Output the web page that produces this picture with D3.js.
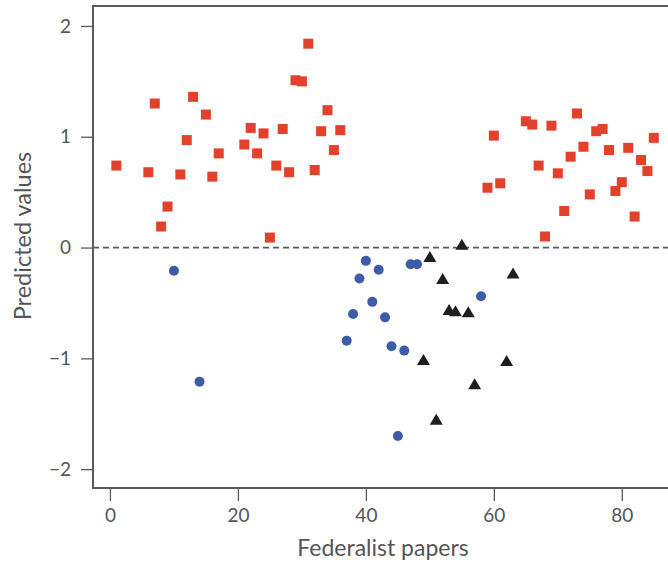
<!DOCTYPE html>
<html>
<head>
<meta charset="utf-8">
<script src="https://cdn.jsdelivr.net/npm/d3@7"></script>
<style>
  html, body { margin: 0; padding: 0; background: #fff; }
  svg { display: block; }
</style>
</head>
<body>
<div id="chart"></div>
<script>
// ---- data ----
const hamiltonPapers = [1, 6, 7, 8, 9, 11, 12, 13, 15, 16, 17, 21, 22, 23, 24, 25, 26, 27, 28, 29, 30, 31, 32, 33, 34, 35, 36, 59, 60, 61, 65, 66, 67, 68, 69, 70, 71, 72, 73, 74, 75, 76, 77, 78, 79, 80, 81, 82, 83, 84, 85];
const hamiltonValues = [0.74, 0.68, 1.30, 0.19, 0.37, 0.66, 0.97, 1.36, 1.20, 0.64, 0.85, 0.93, 1.08, 0.85, 1.03, 0.09, 0.74, 1.07, 0.68, 1.51, 1.50, 1.84, 0.70, 1.05, 1.24, 0.88, 1.06, 0.54, 1.01, 0.58, 1.14, 1.11, 0.74, 0.10, 1.10, 0.67, 0.33, 0.82, 1.21, 0.91, 0.48, 1.05, 1.07, 0.88, 0.51, 0.59, 0.90, 0.28, 0.79, 0.69, 0.99];

const madisonPapers = [10, 14, 37, 38, 39, 40, 41, 42, 43, 44, 45, 46, 47, 48, 58];
const madisonValues = [-0.21, -1.21, -0.84, -0.60, -0.28, -0.12, -0.49, -0.20, -0.63, -0.89, -1.70, -0.93, -0.15, -0.15, -0.44];

const disputedPapers = [49, 50, 51, 52, 53, 54, 55, 56, 57, 62, 63];
const disputedValues = [-1.01, -0.08, -1.55, -0.28, -0.56, -0.57, 0.03, -0.58, -1.23, -1.02, -0.23];

const xTicks = [0, 20, 40, 60, 80];
const yTicks = [-2, -1, 0, 1, 2];
const xLabel = "Federalist papers";
const yLabel = "Predicted values";

// ---- layout ----
const W = 668, H = 567;
const mLeft = 93, mTop = 6, mBottom = 488, mRight = 673;
const axisColor = "#5a5a5a";
const textColor = "#555";
const font = "Lato, 'Open Sans', sans-serif";

const x = d3.scaleLinear().domain([-2.65, 88]).range([mLeft, mRight]);
const y = d3.scaleLinear().domain([-2.17, 2.18]).range([mBottom, mTop]);

const svg = d3.select("#chart").append("svg")
  .attr("width", W).attr("height", H);

// frame (left, top, bottom; right side runs off the picture)
svg.append("path")
  .attr("d", `M${mRight + 10},${mTop}H${mLeft}V${mBottom}H${mRight + 10}`)
  .attr("fill", "none")
  .attr("stroke", axisColor)
  .attr("stroke-width", 2);

// axes
const xAxis = d3.axisBottom(x).tickValues(xTicks).tickSize(13).tickPadding(8)
  .tickFormat(d3.format("d"));
const gx = svg.append("g").attr("transform", `translate(0,${mBottom})`).call(xAxis);
gx.select(".domain").remove();

const yAxis = d3.axisLeft(y).tickValues(yTicks).tickSize(12).tickPadding(10)
  .tickFormat(d => d < 0 ? "\u2212" + Math.abs(d) : String(d));
const gy = svg.append("g").attr("transform", `translate(${mLeft},0)`).call(yAxis);
gy.select(".domain").remove();

[gx, gy].forEach(g => {
  g.selectAll(".tick line").attr("stroke", axisColor).attr("stroke-width", 1.3);
  g.selectAll(".tick text")
    .attr("fill", textColor)
    .style("font-family", font)
    .style("font-size", "19px");
});

// zero reference line
svg.append("line")
  .attr("x1", mLeft).attr("x2", W)
  .attr("y1", y(0)).attr("y2", y(0))
  .attr("stroke", axisColor)
  .attr("stroke-width", 1.8)
  .attr("stroke-dasharray", "6,4");

// axis titles
svg.append("text")
  .attr("x", 383)
  .attr("y", 556)
  .attr("text-anchor", "middle")
  .attr("fill", textColor)
  .style("font-family", font)
  .style("font-size", "23px")
  .text(xLabel);

svg.append("text")
  .attr("transform", `translate(31,236) rotate(-90)`)
  .attr("text-anchor", "middle")
  .attr("fill", textColor)
  .style("font-family", font)
  .style("font-size", "23.5px")
  .text(yLabel);

// ---- marks ----
const hamilton = hamiltonPapers.map((p, i) => ({ p, v: hamiltonValues[i] }));
const madison = madisonPapers.map((p, i) => ({ p, v: madisonValues[i] }));
const disputed = disputedPapers.map((p, i) => ({ p, v: disputedValues[i] }));

const sq = 10;
svg.append("g").selectAll("rect").data(hamilton).join("rect")
  .attr("x", d => x(d.p) - sq / 2)
  .attr("y", d => y(d.v) - sq / 2)
  .attr("width", sq).attr("height", sq)
  .attr("fill", "#e2412b");

svg.append("g").selectAll("circle").data(madison).join("circle")
  .attr("cx", d => x(d.p))
  .attr("cy", d => y(d.v))
  .attr("r", 5)
  .attr("fill", "#3d5ca8");

const tw = 13, th = 11;
svg.append("g").selectAll("path").data(disputed).join("path")
  .attr("d", d => {
    const cx = x(d.p), cy = y(d.v);
    return `M${cx},${cy - th / 2}L${cx + tw / 2},${cy + th / 2}L${cx - tw / 2},${cy + th / 2}Z`;
  })
  .attr("fill", "#1e1e1e");
</script>
</body>
</html>
